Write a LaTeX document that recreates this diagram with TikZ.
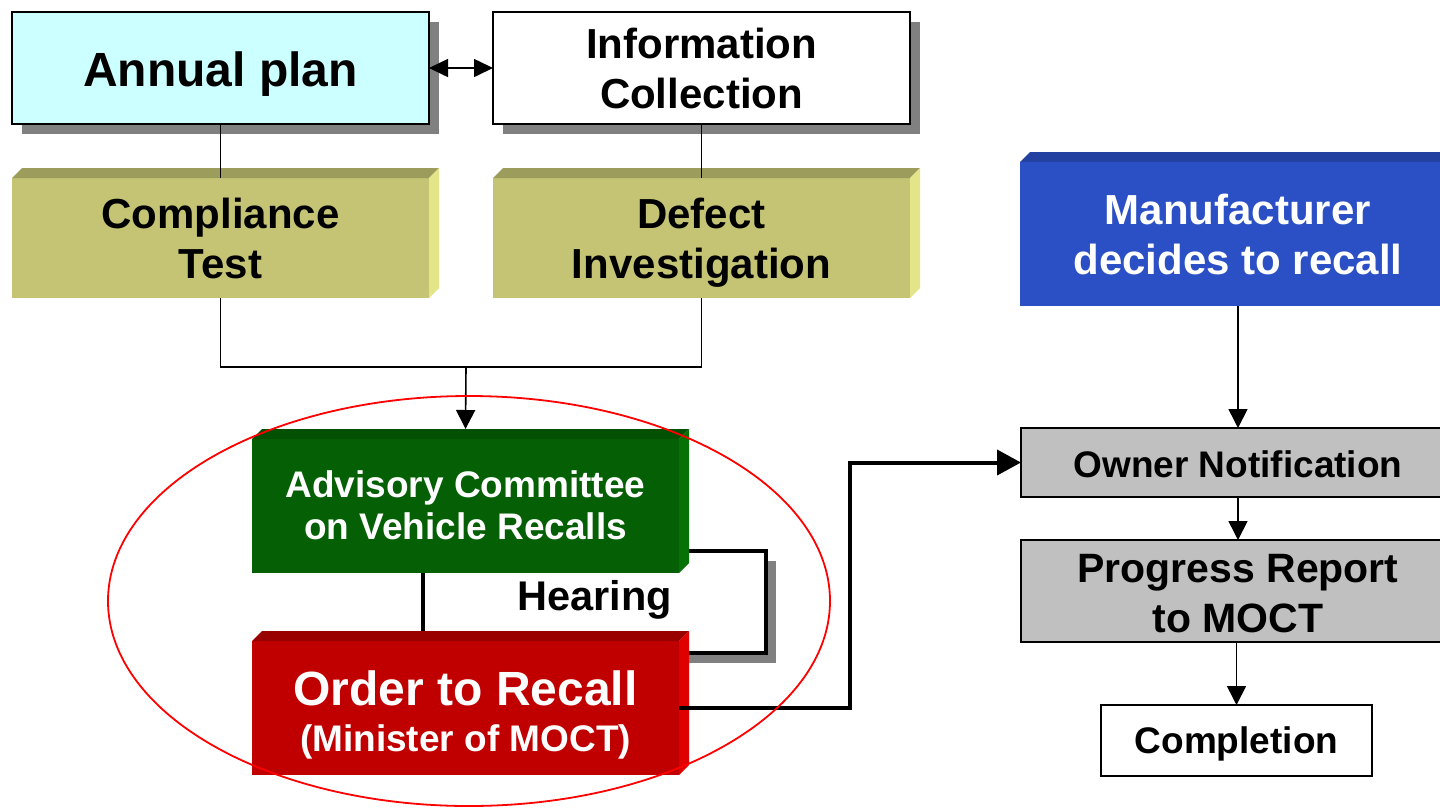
\documentclass[tikz,border=0pt]{standalone}
\usepackage{fontspec}
\setmainfont{Liberation Sans}
\usetikzlibrary{arrows.meta,shadows}
\definecolor{cyanbg}{HTML}{CCFFFF}
\definecolor{olivefront}{HTML}{C4C474}
\definecolor{olivetop}{HTML}{9C9C5C}
\definecolor{oliveright}{HTML}{E4E488}
\definecolor{bluefront}{HTML}{2B50C5}
\definecolor{bluetop}{HTML}{2341A0}
\definecolor{greenfront}{HTML}{056005}
\definecolor{greentop}{HTML}{035003}
\definecolor{greenright}{HTML}{067206}
\definecolor{redfront}{HTML}{C00000}
\definecolor{redtop}{HTML}{990000}
\definecolor{redright}{HTML}{E00000}
\definecolor{boxgray}{HTML}{C0C0C0}
\definecolor{shadowgray}{HTML}{808080}
\newcommand\hs[1]{\rule{0pt}{#1}}
\newcommand\ds[1]{\rule[-#1]{0pt}{#1}}
\newcommand\bevel[3]{%
  \fill[#2] (#1.north west) -- ++(10,-10) -- ([shift={(10,-10)}]#1.north east) -- (#1.north east) -- cycle;
  \fill[#3] (#1.north east) -- ([shift={(10,-10)}]#1.north east) -- ([shift={(10,-10)}]#1.south east) -- (#1.south east) -- cycle;}
\begin{document}
\begin{tikzpicture}[x=1pt,y=-1pt,font=\bfseries,
  base/.style={inner sep=0pt,outer sep=0pt,align=center},
  shad/.style={drop shadow={shadow xshift=10pt,shadow yshift=-10pt,opacity=1,fill=shadowgray}},
  flat/.style={base,draw=black,line width=2.5pt},
  solid3d/.style={base,draw=none},
  conn/.style={line width=1.6pt},
  arr/.style={conn,-{Triangle[length=19pt,width=19pt]}},
  dblarr/.style={conn,{Triangle[length=19pt,width=18pt]}-{Triangle[length=19pt,width=18pt]}},
  bigarr/.style={line width=4pt,-{Triangle[length=24pt,width=25pt]}},
  f42/.style={font=\bfseries\fontsize{42}{50}\selectfont}]
\useasboundingbox (0,0) rectangle (1440,807);
\fill[white] (0,0) rectangle (1440,807);

% hearing loop box (behind)
\node[base,draw=black,line width=3.5pt,fill=white,shad,minimum width=343pt,minimum height=102pt] (hearingbox) at (594.5,602) {};

% top row
\node[flat,shad,fill=cyanbg,minimum width=417pt,minimum height=112pt,font=\bfseries\fontsize{48}{56}\selectfont] (annual) at (220.5,68) {\rule[-10pt]{0pt}{56pt}Annual plan};
\node[flat,shad,fill=white,minimum width=417pt,minimum height=112pt,f42] (info) at (701.5,68) {\hs{40pt}Information\\Collection\ds{9pt}};

% olive boxes
\node[solid3d,fill=olivefront,minimum width=417pt,minimum height=120pt,f42] (compliance) at (220.5,238) {\hs{40pt}Compliance\\Test\ds{9pt}};
\bevel{compliance}{olivetop}{oliveright}
\node[solid3d,fill=olivefront,minimum width=417pt,minimum height=120pt,f42] (defect) at (701.5,238) {\hs{40pt}Defect\\Investigation\ds{9pt}};
\bevel{defect}{olivetop}{oliveright}

% manufacturer
\node[solid3d,fill=bluefront,text=white,minimum width=436pt,minimum height=144pt,f42] (manuf) at (1238,234) {\hs{40pt}Manufacturer\\decides to recall\ds{9pt}};
\bevel{manuf}{bluetop}{bluetop}

% committee and order
\node[solid3d,fill=greenfront,text=white,minimum width=427pt,minimum height=134pt,font=\bfseries\fontsize{37}{42}\selectfont] (advisory) at (465.5,506) {\hs{32pt}Advisory Committee\\on Vehicle Recalls\ds{8pt}};
\bevel{advisory}{greentop}{greenright}
\node[solid3d,fill=redfront,text=white,minimum width=427pt,minimum height=134pt,font=\bfseries\fontsize{48}{46}\selectfont] (order) at (465.5,708) {\hs{48pt}Order to Recall\\{\fontsize{37}{46}\selectfont(Minister of MOCT)}\ds{8pt}};
\bevel{order}{redtop}{redright}

\node[base,anchor=base,font=\bfseries\fontsize{41.5}{50}\selectfont] (hearing) at (594.5,610) {Hearing};

% right column
\node[flat,fill=boxgray,minimum width=434pt,minimum height=69pt,font=\bfseries\fontsize{37}{44}\selectfont] (owner) at (1238,462.5) {\rule[-8pt]{0pt}{45pt}Owner Notification};
\node[flat,fill=boxgray,minimum width=434pt,minimum height=102pt,font=\bfseries\fontsize{41}{50}\selectfont] (progress) at (1238,591) {\hs{40pt}Progress Report\\to MOCT\ds{8pt}};
\node[flat,fill=white,minimum width=271pt,minimum height=71pt,font=\bfseries\fontsize{37}{44}\selectfont] (completion) at (1236.5,740.5) {\rule[-8pt]{0pt}{41pt}Completion};

% connectors
\draw[dblarr] (annual.east) -- (info.west);
\draw[conn] (annual.south) -- (compliance.north);
\draw[conn] (info.south) -- (defect.north);
\coordinate (join) at (466,367);
\draw[conn] (compliance.south) |- (join) -| (defect.south);
\draw[arr] (join) -- ([shift={(0,-10)}]advisory.north);
\draw[arr] (manuf.south) -- (owner.north);
\draw[arr] (owner.south) -- (progress.north);
\draw[arr] (progress.south -| completion.north) -- (completion.north);
\coordinate (turn) at (850,462.5);
\draw[bigarr] (order.east) -| (turn) -- (owner.west);

% highlight ellipse
\draw[red,line width=1.8pt] (469,601) ellipse [x radius=361,y radius=205];
\end{tikzpicture}
\end{document}
